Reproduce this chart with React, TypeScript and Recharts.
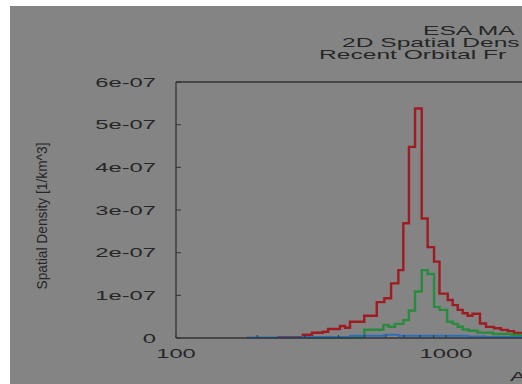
import { LineChart, Line, XAxis, YAxis, ReferenceLine } from 'recharts';

// altitude bin edges [km] and spatial density [1/km^3]; last entry closes the last bin
const redEdges = [237, 295, 319, 350, 366, 405, 423, 441, 498, 554, 591, 626, 666, 695, 729, 768, 813, 855, 903, 946, 1015, 1059, 1105, 1153, 1203, 1253, 1336, 1407, 1506, 1598, 1693, 1786, 1900, 2000];
const redValues = [2e-9, 7.7e-9, 1.24e-8, 1.48e-8, 2.1e-8, 2.8e-8, 2.4e-8, 3.8e-8, 5.2e-8, 8.4e-8, 9.3e-8, 1.28e-7, 1.59e-7, 2.69e-7, 4.48e-7, 5.38e-7, 2.8e-7, 2.13e-7, 1.79e-7, 1.04e-7, 8.9e-8, 7.7e-8, 6.6e-8, 5.8e-8, 5.2e-8, 5.7e-8, 3.4e-8, 2.6e-8, 2.3e-8, 1.9e-8, 1.6e-8, 1.2e-8, 1.0e-8, 1.0e-8];

const greenEdges = [300, 441, 498, 586, 612, 647, 695, 729, 768, 813, 855, 903, 946, 1010, 1059, 1105, 1153, 1215, 1310, 1490, 1750, 2000];
const greenValues = [1e-9, 2e-9, 1.95e-8, 3.05e-8, 2.65e-8, 3.3e-8, 4.2e-8, 6.45e-8, 1.09e-7, 1.59e-7, 1.5e-7, 7.3e-8, 6.6e-8, 3.8e-8, 3.3e-8, 2.65e-8, 2.0e-8, 1.7e-8, 1.25e-8, 9.4e-9, 7e-9, 7e-9];

const blueEdges = [183, 295, 441, 591, 666, 1203, 1400, 2000];
const blueValues = [1e-9, 2.5e-9, 5e-9, 7.5e-9, 5.5e-9, 3.5e-9, 2.5e-9, 2.5e-9];

const yTicks = [0, 1e-7, 2e-7, 3e-7, 4e-7, 5e-7, 6e-7];
const yTickLabels = ['0', '1e-07', '2e-07', '3e-07', '4e-07', '5e-07', '6e-07'];
const xTicks = [100, 200, 300, 400, 500, 600, 700, 800, 900, 1000, 2000, 3000, 4000, 5000, 6000, 7000, 8000, 9000, 10000];
const xLabelValues = [100, 1000];
const xLabels = ['100', '1000'];

const titleLines = ['ESA MA', '2D Spatial Dens', 'Recent Orbital Fr'];

const font = '"Liberation Sans", Arial, sans-serif';
const ink = '#262626';
const bg = '#848484';

const steps = (edges: number[], values: number[]) =>
  edges.map((alt, i) => ({ alt, v: values[i] }));

function YTick({ x, y, payload }: any) {
  const i = yTicks.indexOf(payload.value);
  return (
    <text
      transform={`translate(${x} ${y}) scale(1.9 1)`}
      textAnchor="end"
      dy="0.36em"
      fontSize={12.5}
      fontFamily={font}
      fill={ink}
    >
      {yTickLabels[i]}
    </text>
  );
}

function XTick({ x, y, payload }: any) {
  const i = xLabelValues.indexOf(payload.value);
  if (i < 0) return <g />;
  return (
    <text
      transform={`translate(${x} ${y + 12.5}) scale(1.9 1)`}
      textAnchor="middle"
      fontSize={12.5}
      fontFamily={font}
      fill={ink}
    >
      {xLabels[i]}
    </text>
  );
}

export default function App() {
  return (
    <div style={{ position: 'fixed', left: 0, top: 0, width: 522, height: 384, background: '#fff' }}>
      <div style={{ position: 'absolute', left: 10, top: 6, width: 512, height: 378, overflow: 'hidden', background: bg }}>
        <LineChart width={726} height={378} margin={{ top: 76, right: 20, bottom: 16, left: 10 }}>
          <XAxis
            dataKey="alt"
            type="number"
            scale="log"
            domain={[100, 10000]}
            allowDataOverflow
            ticks={xTicks}
            interval={0}
            tick={<XTick />}
            tickSize={-3}
            tickMargin={10}
            height={30}
            axisLine={{ stroke: '#333', strokeWidth: 1.3 }}
            tickLine={{ stroke: '#333' }}
          />
          <YAxis
            type="number"
            domain={[0, 6e-7]}
            ticks={yTicks}
            interval={0}
            tick={<YTick />}
            tickSize={-5}
            tickMargin={25}
            width={156}
            axisLine={{ stroke: '#333', strokeWidth: 1.3 }}
            tickLine={{ stroke: '#333' }}
          />
          <ReferenceLine y={6e-7} stroke="#333" strokeWidth={1.3} />
          <Line
            data={steps(redEdges, redValues)}
            dataKey="v"
            type="stepAfter"
            stroke="#9e1c21"
            strokeWidth={2.4}
            dot={false}
            isAnimationActive={false}
          />
          <Line
            data={steps(greenEdges, greenValues)}
            dataKey="v"
            type="stepAfter"
            stroke="#2a8a3d"
            strokeWidth={2.4}
            dot={false}
            isAnimationActive={false}
          />
          <Line
            data={steps(blueEdges, blueValues)}
            dataKey="v"
            type="stepAfter"
            stroke="#2b6fba"
            strokeWidth={2}
            dot={false}
            isAnimationActive={false}
          />
        </LineChart>
        <svg width={512} height={378} style={{ position: 'absolute', left: 0, top: 0, pointerEvents: 'none' }}>
          <g fontFamily={font} fill={ink} fontSize={12}>
            <text transform="translate(413 29) scale(2.05 1)">{titleLines[0]}</text>
            <text transform="translate(332 41) scale(2.05 1)">{titleLines[1]}</text>
            <text transform="translate(309 53) scale(2.05 1)">{titleLines[2]}</text>
            <text transform="translate(500 375) scale(1.9 1)" fontSize={12.8}>A</text>
            <text
              transform="translate(32 210) rotate(-90)"
              textAnchor="middle"
              dy="0.35em"
              fontSize={14}
              textLength={147}
              lengthAdjust="spacingAndGlyphs"
            >
              Spatial Density [1/km^3]
            </text>
          </g>
        </svg>
      </div>
    </div>
  );
}
